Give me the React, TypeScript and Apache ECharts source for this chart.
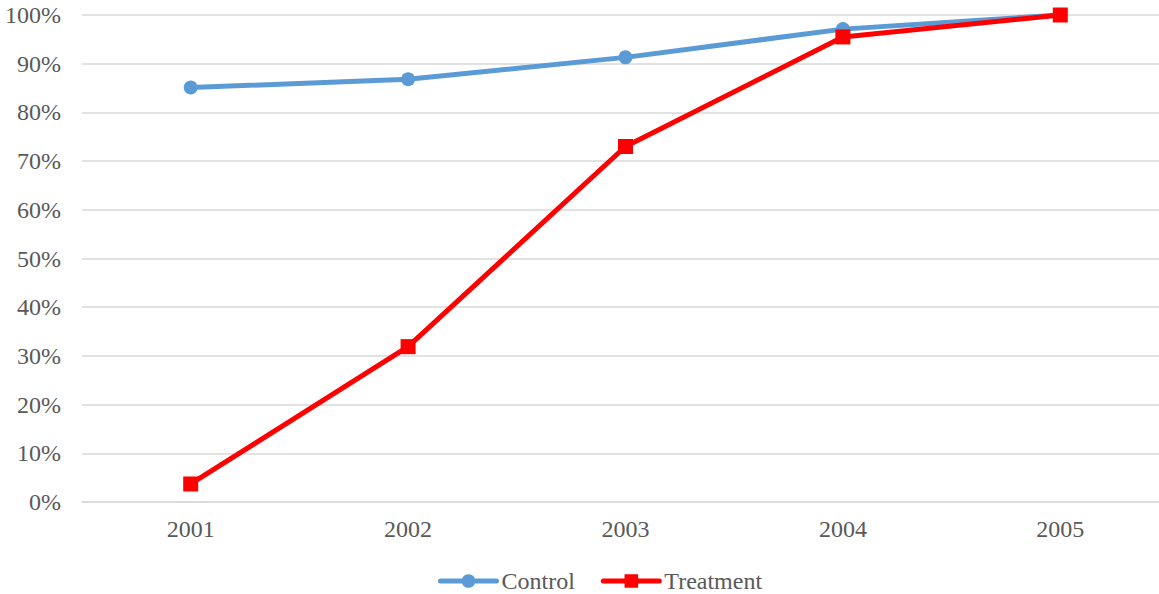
import React, { useEffect, useRef } from "react";
import * as echarts from "echarts";

const years = ["2001", "2002", "2003", "2004", "2005"];
const controlValues = [85.1, 86.8, 91.3, 97.1, 100];
const treatmentValues = [3.7, 31.9, 73.0, 95.5, 100];
const yTicks = [0, 10, 20, 30, 40, 50, 60, 70, 80, 90, 100];

export default function App() {
  const ref = useRef<HTMLDivElement>(null);
  useEffect(() => {
    document.body.style.margin = "0";
    document.body.style.overflow = "hidden";
    const chart = echarts.init(ref.current!, null, { renderer: "svg" });
    const font = "Liberation Serif";
    chart.setOption({
      animation: false,
      textStyle: { fontFamily: font },
      grid: { left: 82, right: 1, top: 15, bottom: 92, containLabel: false },
      legend: {
        top: 569,
        left: 438,
        padding: 0,
        itemWidth: 56,
        itemHeight: 17,
        itemGap: 26,
        lineStyle: { width: 5, cap: "round" },
        textStyle: { fontFamily: font, fontSize: 24, color: "#595959" },
        data: ["Control", "Treatment"],
      },
      xAxis: {
        type: "category",
        data: years,
        boundaryGap: true,
        axisLine: { show: true, lineStyle: { color: "#D9D9D9", width: 1.5 } },
        axisTick: { show: false },
        axisLabel: { fontFamily: font, fontSize: 24, color: "#595959", margin: 15 },
      },
      yAxis: {
        type: "value",
        min: yTicks[0],
        max: yTicks[yTicks.length - 1],
        interval: 10,
        axisLine: { show: false },
        axisTick: { show: false },
        splitLine: { lineStyle: { color: "#D9D9D9", width: 1.5 } },
        axisLabel: {
          fontFamily: font,
          fontSize: 24,
          color: "#595959",
          margin: 21,
          formatter: (v: number) => `${v}%`,
        },
      },
      series: [
        {
          name: "Control",
          type: "line",
          data: controlValues,
          symbol: "circle",
          symbolSize: 14,
          lineStyle: { color: "#5B9BD5", width: 5 },
          itemStyle: { color: "#5B9BD5" },
          z: 2,
        },
        {
          name: "Treatment",
          type: "line",
          data: treatmentValues,
          symbol: "rect",
          symbolSize: 15,
          lineStyle: { color: "#FF0000", width: 5 },
          itemStyle: { color: "#FF0000" },
          z: 3,
        },
      ],
    });
    return () => chart.dispose();
  }, []);
  return <div ref={ref} style={{ width: 1170, height: 594 }} />;
}
